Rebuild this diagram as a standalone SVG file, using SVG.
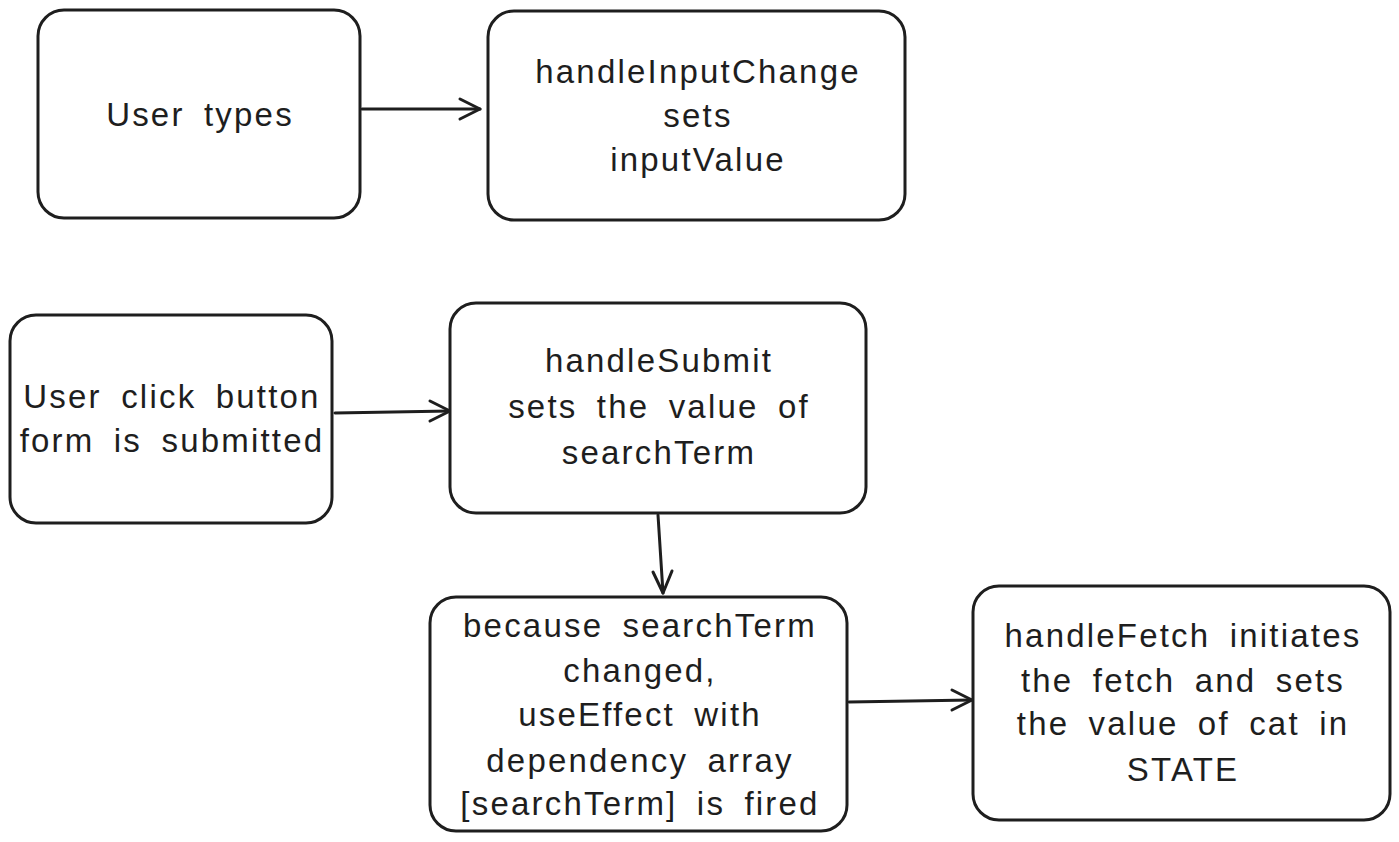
<svg xmlns="http://www.w3.org/2000/svg" width="1399" height="842" viewBox="0 0 1399 842">
<defs>
<style>
.box{fill:#ffffff;stroke:#1e1e1e;stroke-width:3;}
.t{font-family:"Liberation Sans","DejaVu Sans",sans-serif;font-size:33px;fill:#1e1e1e;text-anchor:middle;letter-spacing:2.2px;word-spacing:8px;}
.c{fill:none;stroke:#1e1e1e;stroke-width:3;stroke-linecap:round;}
.h{fill:none;stroke:#1e1e1e;stroke-width:3;stroke-linecap:round;stroke-linejoin:round;}
</style>
</defs>
<rect width="1399" height="842" fill="#ffffff"/>
<g id="connectors">
<path class="c" d="M362,109 L480,109"/>
<path class="h" d="M460,99 L480,109 L460,119"/>
<path class="c" d="M335,413 L450,411"/>
<path class="h" d="M430,401 L450,411 L430,421"/>
<path class="c" d="M658,515 L663,593"/>
<path class="h" d="M653,572 L663,593 L672,571"/>
<path class="c" d="M849,702 L972,700"/>
<path class="h" d="M952,690 L972,700 L952,710"/>
</g>
<g id="n1">
<rect class="box" x="38" y="10" width="322" height="208" rx="26"/>
<text class="t" x="200" y="126">User types</text>
</g>
<g id="n2">
<rect class="box" x="488" y="11" width="417" height="209" rx="26"/>
<text class="t" x="698" y="83">handleInputChange</text>
<text class="t" x="698" y="127">sets</text>
<text class="t" x="698" y="171">inputValue</text>
</g>
<g id="n3">
<rect class="box" x="10" y="315" width="322" height="208" rx="26"/>
<text class="t" x="172" y="408">User click button</text>
<text class="t" x="172" y="452">form is submitted</text>
</g>
<g id="n4">
<rect class="box" x="450" y="303" width="416" height="210" rx="26"/>
<text class="t" x="659" y="372">handleSubmit</text>
<text class="t" x="659" y="418">sets the value of</text>
<text class="t" x="659" y="464">searchTerm</text>
</g>
<g id="n5">
<rect class="box" x="430" y="597" width="417" height="234" rx="26"/>
<text class="t" x="640" y="637">because searchTerm</text>
<text class="t" x="640" y="682">changed,</text>
<text class="t" x="640" y="726">useEffect with</text>
<text class="t" x="640" y="772">dependency array</text>
<text class="t" x="640" y="815">[searchTerm] is fired</text>
</g>
<g id="n6">
<rect class="box" x="973" y="586" width="417" height="234" rx="26"/>
<text class="t" x="1183" y="647">handleFetch initiates</text>
<text class="t" x="1183" y="692">the fetch and sets</text>
<text class="t" x="1183" y="735">the value of cat in</text>
<text class="t" x="1183" y="781">STATE</text>
</g>
</svg>
